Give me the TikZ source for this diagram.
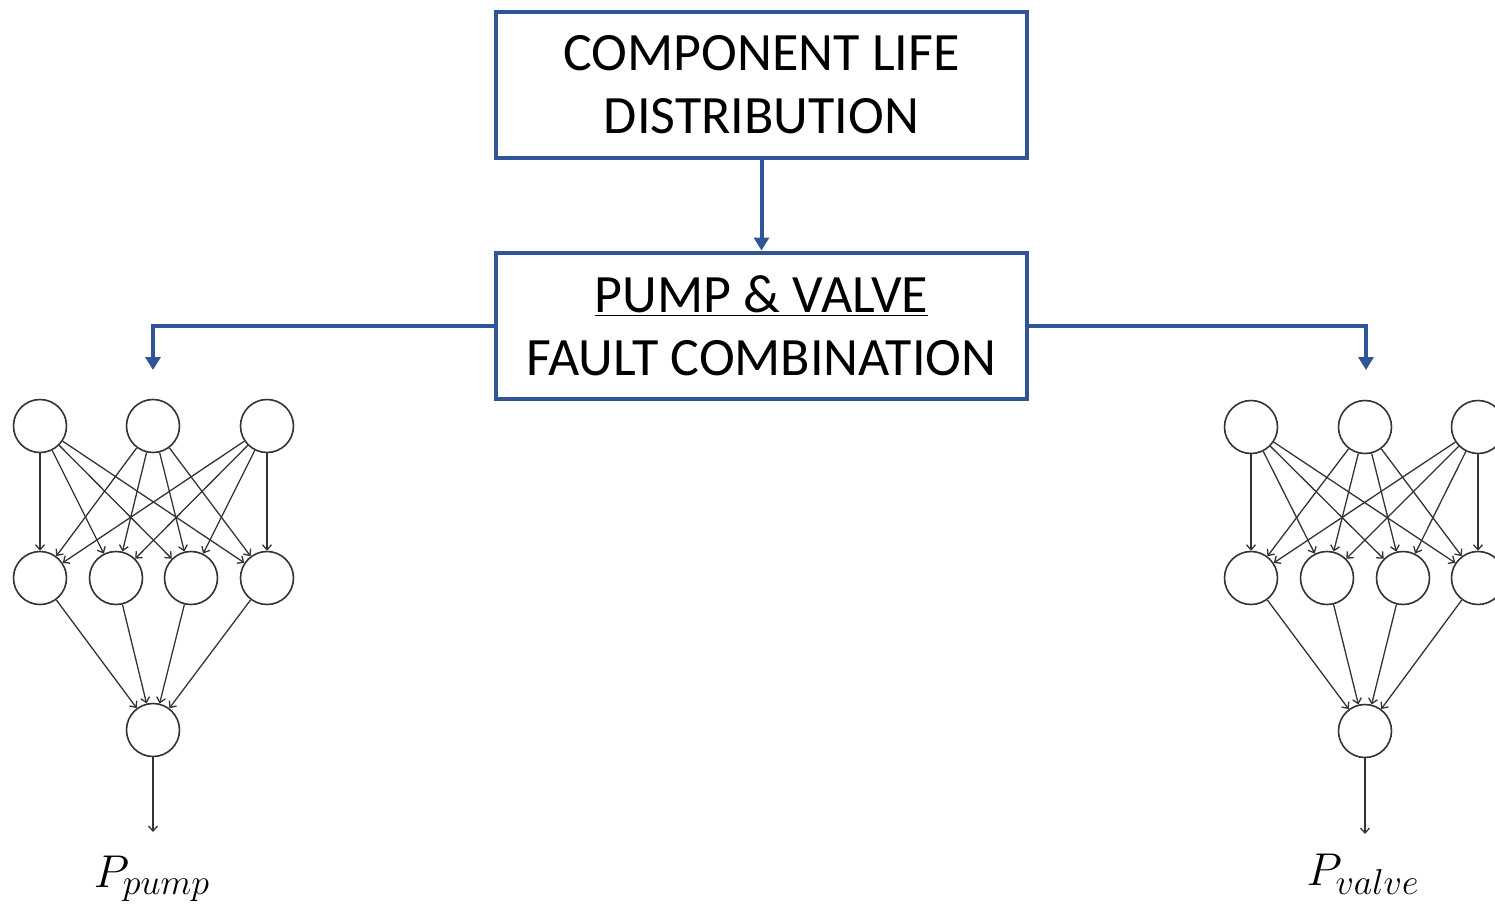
\RequirePackage{fix-cm}
\documentclass[tikz,border=0pt]{standalone}
\usepackage{fontspec}
\setmainfont{Carlito}
\usetikzlibrary{arrows.meta}
\DeclareMathSizes{23}{23}{18}{14}
\definecolor{boxblue}{HTML}{2F5597}
\definecolor{netgray}{HTML}{333333}
\begin{document}
\begin{tikzpicture}[x=0.5pt,y=-0.5pt,
  bluebox/.style={draw=boxblue,line width=2pt,minimum width=265.5pt,minimum height=73pt,
    align=center,font=\fontsize{27}{31.5}\selectfont,inner sep=0pt},
  bluearrow/.style={draw=boxblue,line width=2pt,-{Triangle[length=6.5pt,width=7.5pt]}},
  neuron/.style={circle,draw=netgray,line width=0.8pt,minimum size=26.5pt,inner sep=0pt},
  netedge/.style={draw=netgray,line width=0.65pt,-{Straight Barb[length=2.5pt,width=4.5pt]}},
  outlabel/.style={font=\fontsize{23}{27}\selectfont}
]
\useasboundingbox (0,0) rectangle (1495,906);
\node[bluebox] (b1) at (761.5,85) {COMPONENT LIFE\\DISTRIBUTION};
\node[bluebox] (b2) at (761.5,325.5) {\underline{PUMP \& VALVE}\\FAULT COMBINATION};
\draw[bluearrow] (b1.south) -- (b2.north);
\coordinate (lp) at (153,370);
\coordinate (rp) at (1366,370);
\draw[bluearrow] (b2.west) -| (lp);
\draw[bluearrow] (b2.east) -| (rp);
% left network
\node[neuron] (lt1) at (40,426) {};
\node[neuron] (lt2) at (153,426) {};
\node[neuron] (lt3) at (267,426) {};
\node[neuron] (lm1) at (40,578) {};
\node[neuron] (lm2) at (116,578) {};
\node[neuron] (lm3) at (191,578) {};
\node[neuron] (lm4) at (267,578) {};
\node[neuron] (lo) at (153,730) {};
\coordinate (lend) at (153,832);
\foreach \t in {1,2,3}{\foreach \m in {1,2,3,4}{\draw[netedge] (lt\t) -- (lm\m);}}
\foreach \m in {1,2,3,4}{\draw[netedge] (lm\m) -- (lo);}
\draw[netedge] (lo) -- (lend);
\node[outlabel] (lp1) at (152,879) {$P_{pump}$};
% right network
\node[neuron] (rt1) at (1251,427) {};
\node[neuron] (rt2) at (1365,427) {};
\node[neuron] (rt3) at (1478,427) {};
\node[neuron] (rm1) at (1251,578) {};
\node[neuron] (rm2) at (1327,578) {};
\node[neuron] (rm3) at (1403,578) {};
\node[neuron] (rm4) at (1478,578) {};
\node[neuron] (ro) at (1365,731) {};
\coordinate (rend) at (1365,834);
\foreach \t in {1,2,3}{\foreach \m in {1,2,3,4}{\draw[netedge] (rt\t) -- (rm\m);}}
\foreach \m in {1,2,3,4}{\draw[netedge] (rm\m) -- (ro);}
\draw[netedge] (ro) -- (rend);
\node[outlabel] (rp1) at (1363,874) {$P_{valve}$};
\end{tikzpicture}
\end{document}
